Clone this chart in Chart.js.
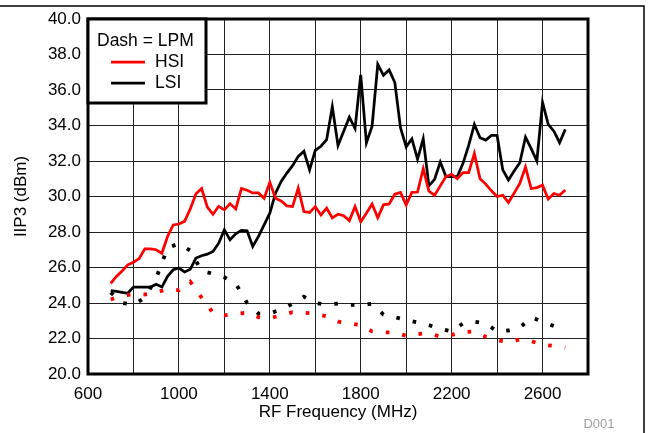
<!DOCTYPE html>
<html>
<head>
<meta charset="utf-8">
<script src="https://cdn.jsdelivr.net/npm/chart.js@4.4.0/dist/chart.umd.min.js"></script>
<style>
  html, body { margin: 0; padding: 0; background: #fff; }
  #wrap { position: relative; width: 649px; height: 433px; }
</style>
</head>
<body>
<div id="wrap"><canvas id="chart" width="649" height="433"></canvas></div>
<script>
// RF frequency (MHz) for the measured sweeps
const freqSolid = [700,725,750,775,800,825,850,875,900,925,950,975,1000,1025,1050,1075,1100,1125,1150,1175,
  1200,1225,1250,1275,1300,1325,1350,1375,1400,1425,1450,1475,1500,1525,1550,1575,1600,1625,1650,1675,
  1700,1725,1750,1775,1800,1825,1850,1875,1900,1925,1950,1975,2000,2025,2050,2075,2100,2125,2150,2175,
  2200,2225,2250,2275,2300,2325,2350,2375,2400,2425,2450,2475,2500,2525,2550,2575,2600,2625,2650,2675,2700];

// IIP3 (dBm), normal mode
const hsi = [25.1,25.5,25.8,26.15,26.3,26.5,27.05,27.05,27.0,26.8,27.75,28.4,28.45,28.6,29.3,30.15,30.45,29.4,29.0,29.45,
  29.25,29.6,29.3,30.45,30.35,30.2,30.2,29.9,30.8,29.9,29.75,29.47,29.43,30.47,29.15,29.1,29.43,28.96,29.34,28.8,
  29.0,28.92,28.64,29.43,28.58,29.06,29.58,28.8,29.53,29.58,30.13,30.23,29.53,30.23,30.25,31.57,30.3,30.07,30.6,31.12,
  31.25,31.0,31.35,31.35,32.43,31.0,30.7,30.32,30.0,30.07,29.66,30.19,30.73,31.66,30.45,30.5,30.64,29.85,30.17,30.07,30.37];
const lsi = [24.7,24.65,24.6,24.55,24.9,24.9,24.9,24.9,25.05,24.9,25.5,25.87,25.97,25.75,25.9,26.53,26.66,26.75,26.9,27.37,
  28.12,27.56,27.9,28.09,28.07,27.19,27.75,28.4,29.06,30.19,30.85,31.32,31.74,32.26,32.55,31.5,32.6,32.83,33.2,35.06,
  32.87,33.68,34.47,33.83,36.85,33.02,33.96,37.45,36.83,37.13,36.42,33.87,32.8,33.25,32.11,33.25,30.6,30.97,31.94,31.12,
  31.12,31.12,31.87,32.88,34.06,33.31,33.18,33.44,33.44,31.5,30.93,31.44,31.9,33.35,32.7,32.0,35.3,34.06,33.68,33.03,33.78];

// low power mode (dashed)
const freqLpm = [700,750,800,850,900,950,1000,1050,1100,1150,1200,1250,1300,1350,1400,1450,1500,1550,1600,1650,
  1700,1750,1800,1850,1900,1950,2000,2050,2100,2150,2200,2250,2300,2350,2400,2450,2500,2550,2600,2650,2700];
const hsiLpm = [24.2,24.4,24.5,24.48,24.6,24.78,24.72,25.2,24.3,23.45,23.3,23.4,23.45,23.2,23.15,23.3,23.48,23.45,23.4,23.25,
  22.95,22.85,22.75,22.4,22.35,22.35,22.15,22.25,22.3,22.1,22.2,22.35,22.4,22.1,21.9,21.8,21.95,21.85,21.65,21.58,21.5];
const lsiLpm = [24.6,24.0,23.9,24.3,25.4,27.1,27.35,26.95,25.8,25.65,25.45,25.1,24.0,23.4,23.4,23.65,23.95,24.35,24.0,23.9,
  23.97,23.9,23.9,23.95,23.35,23.2,23.05,22.9,22.75,22.55,22.4,22.85,22.95,22.85,22.4,22.45,22.6,23.2,22.95,22.7,22.5];

const xLabels = [600, 1000, 1400, 1800, 2200, 2600];
const legendLabels = ["HSI", "LSI"];
const seriesColors = ["#ff0000", "#000000"];

const FONT = '"Liberation Sans", Arial, sans-serif';

function pairs(xs, ys) {
  return xs.map((x, i) => ({ x, y: ys[i] }));
}

const solid = { borderWidth: 2.75, pointRadius: 0, tension: 0, fill: false };
const dotted = { borderWidth: 3.8, borderDash: [3.6, 13.1], pointRadius: 0, tension: 0, fill: false };

// plot frame, in-plot legend box, page frame and figure tag
const decorations = {
  id: "decorations",
  afterDraw(chart) {
    const { ctx, chartArea: a } = chart;
    ctx.save();
    ctx.strokeStyle = "#000";
    ctx.lineWidth = 3;
    ctx.strokeRect(a.left, a.top, a.right - a.left, a.bottom - a.top);

    const bw = 118, bh = 84;
    ctx.fillStyle = "#fff";
    ctx.fillRect(a.left, a.top, bw, bh);
    ctx.strokeRect(a.left, a.top, bw, bh);

    ctx.font = "17.5px " + FONT;
    ctx.fillStyle = "#000";
    ctx.textBaseline = "middle";
    ctx.textAlign = "left";
    ctx.fillText("Dash = LPM", a.left + 9, a.top + 22);
    legendLabels.forEach((lbl, i) => {
      const y = a.top + 43 + i * 21;
      ctx.strokeStyle = seriesColors[i];
      ctx.lineWidth = 2.75;
      ctx.beginPath();
      ctx.moveTo(a.left + 23, y);
      ctx.lineTo(a.left + 57, y);
      ctx.stroke();
      ctx.fillStyle = "#000";
      ctx.fillText(lbl, a.left + 67, y);
    });

    ctx.strokeStyle = "#000";
    ctx.lineWidth = 1.5;
    ctx.beginPath();
    ctx.moveTo(0, 6);
    ctx.lineTo(644, 6);
    ctx.lineTo(644, 433);
    ctx.stroke();

    ctx.font = "13px " + FONT;
    ctx.fillStyle = "#a0a0a0";
    ctx.textAlign = "center";
    ctx.fillText("D001", 599, 424);
    ctx.restore();
  }
};

new Chart(document.getElementById("chart"), {
  type: "line",
  data: {
    datasets: [
      { label: "HSI LPM", data: pairs(freqLpm, hsiLpm), borderColor: seriesColors[0], ...dotted },
      { label: "LSI LPM", data: pairs(freqLpm, lsiLpm), borderColor: seriesColors[1], ...dotted },
      { label: "HSI", data: pairs(freqSolid, hsi), borderColor: seriesColors[0], ...solid },
      { label: "LSI", data: pairs(freqSolid, lsi), borderColor: seriesColors[1], ...solid }
    ]
  },
  options: {
    responsive: false,
    animation: false,
    layout: { padding: { left: 0, top: 19, right: 61, bottom: 0 } },
    plugins: { legend: { display: false }, tooltip: { enabled: false } },
    scales: {
      x: {
        type: "linear",
        min: 600,
        max: 2800,
        afterFit: (s) => { s.height = 59; },
        afterBuildTicks: (s) => {
          s.ticks = [];
          for (let v = 600; v <= 2800; v += 200) s.ticks.push({ value: v });
        },
        ticks: {
          autoSkip: false,
          maxRotation: 0,
          padding: 10,
          color: "#000",
          font: { family: FONT, size: 17 },
          callback: (v) => xLabels.includes(v) ? String(v) : ""
        },
        grid: { color: "#222", lineWidth: 1, drawTicks: false },
        border: { display: false },
        title: { display: true, text: "RF Frequency (MHz)", color: "#000", font: { family: FONT, size: 17 }, padding: 10 }
      },
      y: {
        min: 20,
        max: 40,
        afterFit: (s) => { s.width = 88; },
        ticks: {
          stepSize: 2,
          padding: 7,
          color: "#000",
          font: { family: FONT, size: 17 },
          callback: (v) => v.toFixed(1)
        },
        grid: { color: "#222", lineWidth: 1, drawTicks: false },
        border: { display: false },
        title: { display: true, text: "IIP3 (dBm)", color: "#000", font: { family: FONT, size: 17 }, padding: 11 }
      }
    }
  },
  plugins: [decorations]
});
</script>
</body>
</html>
